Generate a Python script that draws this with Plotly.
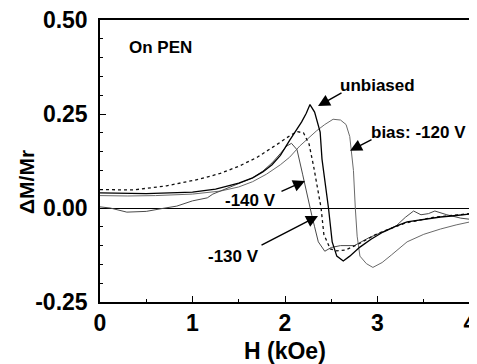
import plotly.graph_objects as go

# ---- data ----
h_unbiased = [0, 0.25, 0.5, 0.75, 1.0, 1.25, 1.5, 1.65, 1.76, 1.86, 1.95, 2.05, 2.12, 2.18, 2.23, 2.27,
              2.32, 2.38, 2.40, 2.43, 2.47, 2.51, 2.56, 2.63, 2.70, 2.81, 2.93, 3.06, 3.2, 3.32, 3.5, 3.68, 3.85, 4.0]
m_unbiased = [0.040, 0.038, 0.038, 0.040, 0.042, 0.050, 0.066, 0.080, 0.096, 0.115, 0.140, 0.180, 0.205, 0.229, 0.252, 0.275,
              0.255, 0.202, 0.130, 0.077, 0.000, -0.090, -0.128, -0.141, -0.128, -0.104, -0.083, -0.064, -0.048, -0.037, -0.030, -0.024, -0.020, -0.016]

h_m120 = [0, 0.3, 0.6, 1.0, 1.3, 1.5, 1.65, 1.8, 1.95, 2.05, 2.16, 2.25, 2.34, 2.43, 2.52, 2.60, 2.66, 2.70, 2.72, 2.74,
          2.76, 2.78, 2.81, 2.88, 2.95, 3.05, 3.15, 3.32, 3.5, 3.68, 3.85, 4.0]
m_m120 = [0.033, 0.032, 0.033, 0.037, 0.045, 0.056, 0.070, 0.090, 0.115, 0.135, 0.165, 0.185, 0.205, 0.222, 0.236, 0.234, 0.222, 0.19, 0.15, 0.10,
          0.0, -0.075, -0.128, -0.148, -0.158, -0.145, -0.125, -0.09, -0.07, -0.056, -0.045, -0.037]

h_m140 = [0, 0.36, 0.72, 1.08, 1.3, 1.51, 1.7, 1.85, 1.95, 2.05, 2.13, 2.2, 2.26, 2.31, 2.35, 2.39, 2.42, 2.49, 2.56,
          2.65, 2.8, 3.0, 3.3, 3.6, 4.0]
m_m140 = [0.049, 0.048, 0.059, 0.077, 0.092, 0.112, 0.135, 0.158, 0.175, 0.192, 0.203, 0.200, 0.170, 0.110, 0.050, 0.0, -0.070, -0.109, -0.114,
          -0.112, -0.095, -0.068, -0.040, -0.025, -0.015]

h_m130 = [0, 0.11, 0.29, 0.5, 0.68, 0.83, 1.0, 1.16, 1.22, 1.3, 1.5, 1.65, 1.76, 1.86, 1.95, 2.02, 2.07, 2.13, 2.19, 2.25,
          2.29, 2.32, 2.36, 2.43, 2.5, 2.6, 2.75, 2.9, 3.05, 3.2, 3.3, 3.39, 3.47, 3.55, 3.62, 3.75, 3.9, 4.0]
m_m130 = [0.003, 0.0, -0.011, -0.009, -0.001, 0.005, 0.019, 0.027, 0.037, 0.045, 0.063, 0.080, 0.098, 0.120, 0.145, 0.165, 0.172, 0.155, 0.090, 0.020,
          -0.020, -0.050, -0.090, -0.115, -0.105, -0.100, -0.100, -0.080, -0.065, -0.048, -0.025, -0.008, -0.018, -0.015, -0.008, -0.018, -0.027, -0.030]

y_tickvals = [0.50, 0.25, 0.00, -0.25]
y_ticktext = ["0.50", "0.25", "0.00", "-0.25"]
x_tickvals = [0, 1, 2, 3, 4]
x_ticktext = ["0", "1", "2", "3", "4"]

FONT = "Arial, Liberation Sans, sans-serif"

fig = go.Figure()
fig.add_trace(go.Scatter(x=h_m120, y=m_m120, mode="lines", line=dict(color="#6a6a6a", width=1)))
fig.add_trace(go.Scatter(x=h_m130, y=m_m130, mode="lines", line=dict(color="#4a4a4a", width=1)))
fig.add_trace(go.Scatter(x=h_m140, y=m_m140, mode="lines", line=dict(color="#111111", width=1.3, dash="dot")))
fig.add_trace(go.Scatter(x=h_unbiased, y=m_unbiased, mode="lines", line=dict(color="#000000", width=1.3)))

axis_common = dict(showline=True, linecolor="black", linewidth=1.5, mirror=True, showgrid=False,
                   ticks="inside", ticklen=6, tickwidth=1.2, tickcolor="black", automargin=False,
                   ticklabeloverflow="allow",
                   tickfont=dict(family=FONT, size=23, color="black", weight="bold"))

fig.update_xaxes(range=[0, 4], tickvals=x_tickvals, ticktext=x_ticktext, zeroline=False,
                 minor=dict(dtick=0.5, ticks="inside", ticklen=3, tickcolor="black"),
                 ticklabelstandoff=0, **axis_common)
fig.update_yaxes(range=[-0.25, 0.5], tickvals=y_tickvals, ticktext=y_ticktext,
                 zeroline=True, zerolinecolor="black", zerolinewidth=1.3,
                 minor=dict(dtick=0.05, ticks="inside", ticklen=3, tickcolor="black"),
                 ticklabelstandoff=6, **axis_common)

ann_font = dict(family=FONT, size=17, color="black", weight="bold")
title_font = dict(family=FONT, size=23, color="black", weight="bold")
annotations = [
    dict(x=0.5, y=-0.174, xref="paper", yref="paper", text="H (kOe)", showarrow=False,
         xanchor="center", yanchor="middle", font=title_font),
    dict(x=-0.2, y=0.4255, xref="paper", yref="paper", text="ΔM/Mr", showarrow=False, textangle=-90,
         xanchor="center", yanchor="middle", font=dict(family=FONT, size=21, color="black", weight="bold")),
    dict(x=0.29, y=0.428, text="On PEN", showarrow=False, xanchor="left", font=ann_font),
    dict(x=2.995, y=0.327, text="unbiased", showarrow=False, font=ann_font),
    dict(x=3.438, y=0.202, text="bias: -120 V", showarrow=False, font=ann_font),
    dict(x=1.632, y=0.019, text="-140 V", showarrow=False, font=ann_font),
    dict(x=1.438, y=-0.130, text="-130 V", showarrow=False, font=ann_font),
]
arrows = [
    (2.357, 0.271, 25, -14),
    (2.703, 0.152, 23, -12),
    (2.216, 0.072, -25, 11),
    (2.357, -0.021, -58, 30),
]
for (x, y, ax, ay) in arrows:
    annotations.append(dict(x=x, y=y, ax=ax, ay=ay, text="", showarrow=True,
                            arrowhead=2, arrowsize=1.7, arrowwidth=1.4, arrowcolor="black"))

# page body has an 8px margin, so the figure is sized to fill the 477x364 window from (8, 8)
fig.update_layout(width=469, height=356, margin=dict(l=92, r=7, t=12, b=62),
                  paper_bgcolor="white", plot_bgcolor="white", showlegend=False,
                  annotations=annotations)

fig.write_html("out.html")
